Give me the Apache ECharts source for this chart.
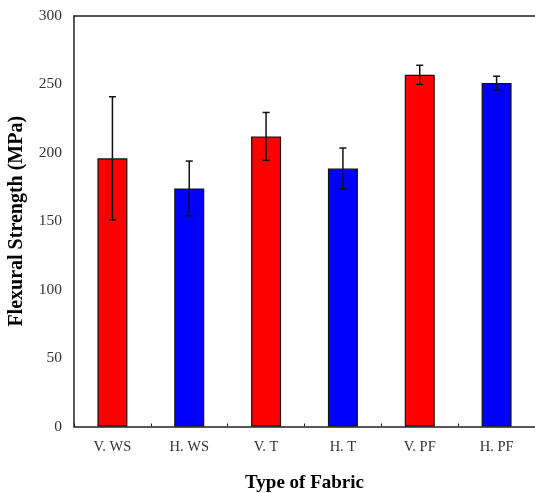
<!DOCTYPE html>
<html><head><meta charset="utf-8">
<script src="https://cdn.jsdelivr.net/npm/echarts@6/dist/echarts.min.js"></script>
<style>html,body{margin:0;padding:0;background:#fff}#c{width:535px;height:493px}</style>
</head><body><div id="c"></div>
<script>
const categories = ['V. WS', 'H. WS', 'V. T', 'H. T', 'V. PF', 'H. PF'];
const values = [196, 174, 212, 188.5, 257, 251];
const errors = [45, 20, 17.5, 15, 7, 5];
const colors = ['#ff0000', '#0000ff', '#ff0000', '#0000ff', '#ff0000', '#0000ff'];
const yTicks = [0, 50, 100, 150, 200, 250, 300];

const chart = echarts.init(document.getElementById('c'));
const serif = '"Liberation Serif", "DejaVu Serif", serif';
chart.setOption({
  animation: false,
  grid: { left: 74, top: 16, right: 0, bottom: 66.5, outerBoundsMode: 'none', containLabel: false },
  xAxis: [{
    type: 'category', data: categories, position: 'bottom',
    name: 'Type of Fabric', nameLocation: 'middle', nameGap: 47,
    nameTextStyle: { fontFamily: serif, fontWeight: 'bold', fontSize: 19, color: '#000' },
    axisLine: { lineStyle: { color: '#222', width: 1.5 } },
    axisTick: { show: true, inside: true, length: 3, lineStyle: { color: '#222' } },
    axisLabel: { fontFamily: serif, fontSize: 14.5, color: '#333', margin: 13 }
  }, {
    type: 'category', data: categories, position: 'top',
    axisLine: { show: true, lineStyle: { color: '#222', width: 1.5 } },
    axisTick: { show: false }, axisLabel: { show: false }
  }],
  yAxis: {
    type: 'value', min: yTicks[0], max: yTicks[yTicks.length - 1], interval: 50,
    name: 'Flexural Strength (MPa)', nameLocation: 'middle', nameGap: 47,
    nameTextStyle: { fontFamily: serif, fontWeight: 'bold', fontSize: 20, color: '#000' },
    axisLine: { show: true, lineStyle: { color: '#222', width: 1.5 } },
    axisTick: { show: false },
    splitLine: { show: false },
    axisLabel: { fontFamily: serif, fontSize: 15.5, color: '#333', margin: 12 }
  },
  series: [{
    type: 'bar', barWidth: 30,
    data: values.map((v, i) => ({ value: v, itemStyle: { color: colors[i] } })),
    itemStyle: { borderColor: '#111', borderWidth: 1.2 }
  }, {
    type: 'custom',
    data: values.map((v, i) => [i, v - errors[i], v + errors[i]]),
    renderItem: function (params, api) {
      const lo = api.coord([api.value(0), api.value(1)]);
      const hi = api.coord([api.value(0), api.value(2)]);
      const w = 3.5;
      const st = { stroke: '#111', lineWidth: 1.5 };
      return { type: 'group', children: [
        { type: 'line', shape: { x1: hi[0], y1: hi[1], x2: lo[0], y2: lo[1] }, style: st },
        { type: 'line', shape: { x1: hi[0] - w, y1: hi[1], x2: hi[0] + w, y2: hi[1] }, style: st },
        { type: 'line', shape: { x1: lo[0] - w, y1: lo[1], x2: lo[0] + w, y2: lo[1] }, style: st }
      ]};
    },
    z: 10
  }]
});
</script></body></html>
